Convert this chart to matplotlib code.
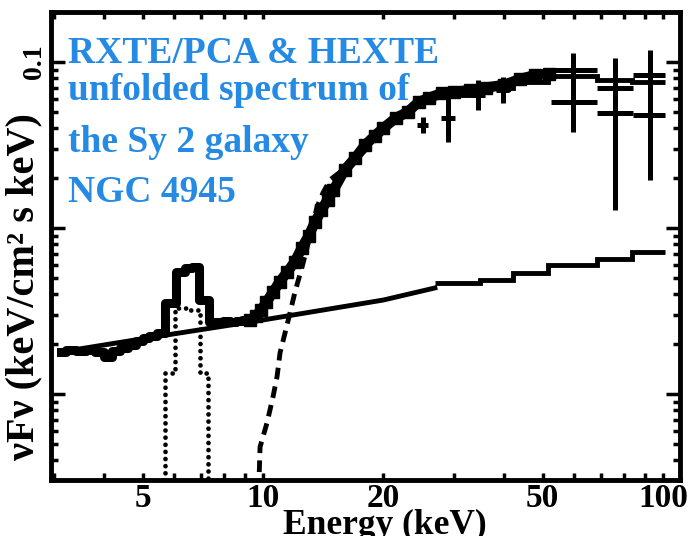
import matplotlib
matplotlib.use('Agg')
import matplotlib.pyplot as plt
from matplotlib.ticker import FixedLocator, FixedFormatter, NullFormatter

plt.rcParams['font.family'] = ['Liberation Serif', 'DejaVu Serif']
plt.rcParams['font.weight'] = 'bold'

# combined PCA + HEXTE unfolded data (keV, keV/cm2 s keV)
spec_E = [3.12, 3.3, 3.5, 3.7, 3.9, 4.1, 4.3, 4.5, 4.7, 4.9, 5.1, 5.3, 5.55,
          5.85, 6.25, 6.5, 6.75, 7.12, 7.5, 7.8, 8.1, 8.4, 8.7, 9.0, 9.3,
          9.6, 9.9, 10.2, 10.6, 11.0, 11.5, 12.0, 12.5, 13.0, 13.5, 14.0,
          14.5, 15.0, 16.0, 17.0, 18.0, 19.0, 20.0, 21.5, 23.0, 24.5, 26.0,
          28.0, 30.0, 33.0, 36.0, 40.0, 44.0, 48.0, 52.0]
spec_F = [0.00179, 0.00184, 0.00182, 0.00184, 0.00179, 0.00167, 0.00182,
          0.00189, 0.00197, 0.00209, 0.00218, 0.00224, 0.00233,
          0.00353, 0.00543, 0.00574, 0.00582, 0.00370, 0.00272, 0.00272,
          0.00275, 0.00272, 0.00275, 0.00279, 0.00279,
          0.00295, 0.00321, 0.00358, 0.00412, 0.00473, 0.00543, 0.00624,
          0.00758, 0.00895, 0.0109, 0.0128,
          0.0148, 0.0169, 0.0224, 0.0264, 0.0316, 0.0358, 0.040, 0.046,
          0.050, 0.0574, 0.0607,
          0.065, 0.066, 0.0678, 0.070, 0.0727, 0.079, 0.0835, 0.085]
N_STEP = 25  # bins up to 9.3 keV are drawn as a histogram

# HEXTE points with error bars
hx_E = [25.1, 29.0, 34.5, 39.8, 59.6, 59.6, 75.9, 75.9, 92.7, 92.7]
hx_lo = [24.3, 27.8, 33.2, 38.3, 52.5, 52.5, 68.4, 68.4, 84.0, 84.0]
hx_hi = [25.9, 30.2, 35.8, 41.3, 68.4, 68.4, 84.0, 84.0, 101.0, 101.0]
hx_F = [0.0417, 0.046, 0.0633, 0.0678, 0.0895, 0.0574, 0.0697, 0.0493, 0.0835, 0.0479]
hx_Fmin = [0.0374, 0.033, 0.0514, 0.0566, 0.059, 0.0379, 0.0339, 0.0129, 0.0447, 0.0195]
hx_Fmax = [0.0467, 0.0615, 0.0779, 0.0812, 0.1133, 0.0779, 0.1057, 0.0727, 0.118, 0.0727]

# model: total (HEXTE bins), power law, Fe line, absorbed power law
hex_edges = [26.9, 34.9, 42.2, 51.6, 68.4, 83.6, 101.2]
tot_hex = [0.0633, 0.0697, 0.0758, 0.0824, 0.0779, 0.0758]
pl_hex = [0.00466, 0.00486, 0.00536, 0.00599, 0.00651, 0.00717]
pl_E = [3.12, 5.0, 10.0, 20.0, 26.9]
pl_F = [0.00179, 0.00215, 0.00279, 0.00368, 0.00435]
fe_edges = [5.69, 6.04, 6.49, 6.96, 7.29]
fe_F = [0.00134, 0.0033, 0.00322, 0.00134]
abs_E = [9.72, 9.83, 10.23, 10.59, 10.84, 11.03, 11.35, 11.68, 12.02, 12.52,
         12.88, 13.26, 13.65, 14.13, 14.71, 17.0, 20.0]
abs_F = [2.0e-4, 4.79e-4, 6.69e-4, 9.59e-4, 1.27e-3, 1.77e-3, 2.33e-3, 3.08e-3,
         4.12e-3, 5.82e-3, 7.58e-3, 1.01e-2, 1.34e-2, 1.63e-2, 1.95e-2, 0.0255, 0.038]

W, H = 693, 536
fig = plt.figure(figsize=(W / 100, H / 100), dpi=100)
ax = fig.add_axes([51 / W, 1 - 480 / H, 629 / W, 468 / H])
ax.set_xscale('log')
ax.set_yscale('log')

# data band
ax.plot(spec_E[:N_STEP], spec_F[:N_STEP], color='k', lw=6.5, drawstyle='steps-mid')
ax.plot(spec_E[N_STEP - 1:], spec_F[N_STEP - 1:], color='k', lw=7.5,
        marker='s', ms=9, solid_capstyle='butt')
xl = [e - lo for e, lo in zip(hx_E, hx_lo)]
xh = [hi - e for e, hi in zip(hx_E, hx_hi)]
yl = [f - a for f, a in zip(hx_F, hx_Fmin)]
yh = [b - f for f, b in zip(hx_F, hx_Fmax)]
ax.errorbar(hx_E, hx_F, xerr=[xl, xh], yerr=[yl, yh], fmt='none',
            ecolor='k', elinewidth=3.6, capsize=0)

# model components
ax.stairs(tot_hex, hex_edges, color='k', lw=3.5, baseline=None)
ax.stairs(pl_hex, hex_edges, color='k', lw=3.5, baseline=None)
ax.plot(pl_E, pl_F, color='k', lw=3.5)
fe = ax.stairs(fe_F, fe_edges, color='k', lw=3.4, baseline=1e-5,
               linestyle=(0, (0.01, 1.5)))
fe.set_capstyle('round')
ax.plot(abs_E, abs_F, color='k', lw=3.5, linestyle=(0, (2.4, 1.5)))

ax.set_xlim(2.95, 110.3)
ax.set_ylim(3.03e-4, 0.2)

ax.xaxis.set_major_locator(FixedLocator([5, 10, 20, 50, 100]))
ax.xaxis.set_major_formatter(FixedFormatter(['5', '10', '20', '50', '100']))
ax.xaxis.set_minor_locator(FixedLocator([3, 4, 6, 7, 8, 9, 30, 40, 60, 70, 80, 90]))
ax.xaxis.set_minor_formatter(NullFormatter())
ax.yaxis.set_major_locator(FixedLocator([0.001, 0.01, 0.1]))
ax.yaxis.set_major_formatter(FixedFormatter(['', '', '0.1']))
ax.yaxis.set_minor_locator(FixedLocator([k * d for d in (1e-4, 1e-3, 1e-2, 1e-1)
                                         for k in range(2, 10)]))
ax.yaxis.set_minor_formatter(NullFormatter())

ax.tick_params(which='both', direction='in', top=True, right=True, width=2.5, color='k')
ax.tick_params(axis='x', which='both', length=5)
ax.tick_params(axis='x', which='major', labelsize=24, pad=2)
ax.tick_params(axis='y', which='major', length=10, labelsize=20, pad=3)
ax.tick_params(axis='y', which='minor', length=5)
for lbl in ax.get_yticklabels():
    lbl.set_rotation(90)
    lbl.set_va('center')
for s in ax.spines.values():
    s.set_linewidth(3.5)

fig.text(24 / W, 1 - 287 / H, 'νFν (keV/cm² s keV)', rotation=90,
         ha='center', va='center', fontsize=29)
fig.text(385 / W, 1 - 534 / H, 'Energy (keV)', ha='center', va='baseline', fontsize=25.5)

blue = '#258ae3'
lines = ['RXTE/PCA & HEXTE', 'unfolded spectrum of', 'the Sy 2 galaxy', 'NGC 4945']
base = [63, 100, 152, 202]
for t, yb in zip(lines, base):
    fig.text(68 / W, 1 - yb / H, t, color=blue, fontsize=27, va='baseline', ha='left')

fig.savefig('out.png', dpi=100)
